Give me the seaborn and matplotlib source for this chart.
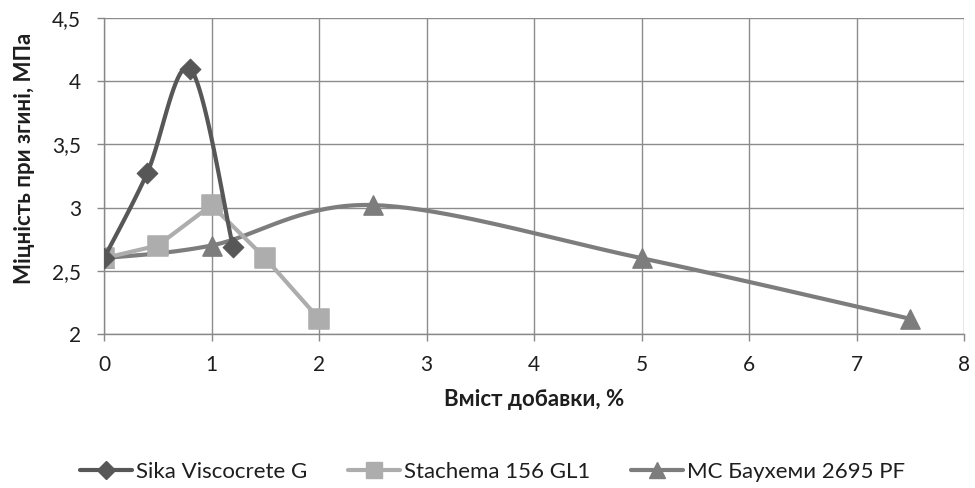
import numpy as np
import matplotlib
matplotlib.use("Agg")
import matplotlib.pyplot as plt
from matplotlib.lines import Line2D
import seaborn as sns

# Data
sika_x = [0, 0.4, 0.8, 1.2]
sika_y = [2.6, 3.27, 4.1, 2.69]
stachema_x = [0, 0.5, 1.0, 1.5, 2.0]
stachema_y = [2.6, 2.7, 3.02, 2.6, 2.12]
mc_x = [0, 1.0, 2.5, 5.0, 7.5]
mc_y = [2.6, 2.7, 3.02, 2.6, 2.12]
series_names = ["Sika Viscocrete G", "Stachema 156 GL1", "МС Баухеми 2695 PF"]
x_ticks = [0, 1, 2, 3, 4, 5, 6, 7, 8]
y_ticks = [2, 2.5, 3, 3.5, 4, 4.5]

sns.set_theme(style="whitegrid")
plt.rcParams['font.family'] = ['Lato', 'DejaVu Sans']

def smooth(xs, ys, n=40):
    P = np.column_stack([xs, ys]).astype(float)
    m = len(P)
    out = [P[0]]
    for i in range(m - 1):
        p0 = P[i - 1] if i > 0 else P[i]
        p1 = P[i]
        p2 = P[i + 1]
        p3 = P[i + 2] if i + 2 < m else P[i + 1]
        c1 = p1 + (p2 - p0) / 6.0
        c2 = p2 - (p3 - p1) / 6.0
        t = np.linspace(0, 1, n)[1:, None]
        pts = ((1 - t) ** 3) * p1 + 3 * ((1 - t) ** 2) * t * c1 + 3 * (1 - t) * t ** 2 * c2 + t ** 3 * p2
        out.extend(pts)
    out = np.array(out)
    return out[:, 0], out[:, 1]

fig = plt.figure(figsize=(9.75, 4.88), dpi=100)
ax = fig.add_axes([104 / 975, 1 - 334 / 488, (964 - 104) / 975, (334 - 18) / 488])

c_sika = "#575757"
c_sta = "#adadad"
c_mc = "#7d7d7d"
txt = "#1e1e1e"

# MC (smoothed)
sx, sy = smooth(mc_x, mc_y)
ax.plot(sx, sy, color=c_mc, lw=3, zorder=3)
sns.scatterplot(x=mc_x, y=mc_y, marker="^", s=190, color=c_mc, edgecolor=c_mc, ax=ax, zorder=4, legend=False)

# Stachema (straight)
sns.lineplot(x=stachema_x, y=stachema_y, color=c_sta, lw=3, ax=ax, zorder=3, sort=False)
sns.scatterplot(x=stachema_x, y=stachema_y, marker="s", s=200, color=c_sta, edgecolor=c_sta, ax=ax, zorder=4, legend=False)

# Sika (smoothed)
sx, sy = smooth(sika_x, sika_y)
ax.plot(sx, sy, color=c_sika, lw=3, zorder=5)
sns.scatterplot(x=sika_x, y=sika_y, marker="D", s=110, color=c_sika, edgecolor=c_sika, ax=ax, zorder=6, legend=False)

ax.set_xlim(0, 8)
ax.set_ylim(2, 4.5)
ax.set_xticks(x_ticks)
ax.set_yticks(y_ticks)
ax.set_xticklabels([str(v) for v in x_ticks])
ax.set_yticklabels([("%g" % v).replace(".", ",") for v in y_ticks])
ax.tick_params(axis="both", labelsize=15, labelcolor=txt, length=5, width=1, direction="out", color="#888888")
ax.tick_params(axis="y", pad=11.5)
ax.tick_params(axis="x", pad=10)
ax.grid(True, color="#8c8c8c", lw=1)
ax.set_facecolor("white")
for side in ["left", "bottom"]:
    ax.spines[side].set_visible(True)
    ax.spines[side].set_color("#888888")
    ax.spines[side].set_linewidth(1)
for side in ["top", "right"]:
    ax.spines[side].set_visible(False)
ax.xaxis.set_ticks_position("bottom")
ax.yaxis.set_ticks_position("left")

ax.set_xlabel("Вміст добавки, %", fontsize=16, fontweight="bold", color=txt, labelpad=10)
ax.set_ylabel("Міцність при згині, МПа", fontsize=16, fontweight="bold", color=txt, labelpad=12)
ax.yaxis.label.set_y(0.557)

handles = [
    Line2D([], [], color=c_sika, lw=3, marker="D", markersize=9),
    Line2D([], [], color=c_sta, lw=3, marker="s", markersize=12),
    Line2D([], [], color=c_mc, lw=3, marker="^", markersize=12),
]
fig.legend(handles, series_names, loc="center", bbox_to_anchor=(0.505, 1 - 472 / 488), ncol=3,
           frameon=False, fontsize=16, handlelength=2.35, columnspacing=1.85, handletextpad=0.15,
           labelcolor=txt)

fig.savefig("out.png", dpi=100, facecolor="white")
